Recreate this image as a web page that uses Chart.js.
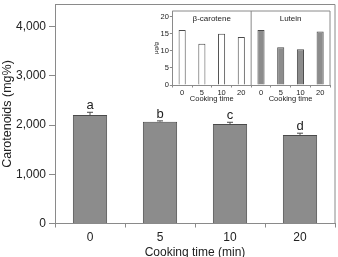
<!DOCTYPE html>
<html>
<head>
<meta charset="utf-8">
<script src="https://cdn.jsdelivr.net/npm/chart.js@4/dist/chart.umd.min.js"></script>
<style>
  html, body { margin: 0; padding: 0; overflow: hidden; background: #fff; width: 338px; height: 257px; }
  #wrap { position: relative; width: 338px; height: 257px; }
  #main { position: absolute; left: 0; top: 0; }
  #inset { position: absolute; left: 148px; top: 9px; }
</style>
</head>
<body>
<div id="wrap">
  <canvas id="main" width="338" height="262"></canvas>
  <canvas id="inset" width="184" height="96"></canvas>
</div>
<script>
var cookTimes = ['0', '5', '10', '20'];
var totalCarotenoids = [2205, 2070, 2022, 1800];
var totalErrors = [55, 15, 35, 35];
var groupLetters = ['a', 'b', 'c', 'd'];
var yTicksMain = [0, 1000, 2000, 3000, 4000];

var insetLabels = ['0', '5', '10', '20', '0', '5', '10', '20'];
var betaCarotene = [16.1, 12.1, 15.0, 14.1, null, null, null, null];
var lutein = [null, null, null, null, 16.1, 11.1, 10.5, 15.7];
var panelNames = ['β-carotene', 'Lutein'];

var FONT = '"Liberation Sans", Arial, Helvetica, sans-serif';
var axisColor = '#8a8a8a';
var textColor = '#222';
var barGray = '#8c8c8c';
var barEdge = '#4a4a4a';

Chart.defaults.font.family = FONT;
Chart.defaults.color = textColor;
Chart.defaults.animation = false;

// top + right border of the plot box
function frameLines(chart, extraX) {
  var a = chart.chartArea, ctx = chart.ctx;
  ctx.save();
  ctx.strokeStyle = axisColor;
  ctx.lineWidth = 1;
  ctx.beginPath();
  ctx.moveTo(a.left, a.top);
  ctx.lineTo(a.right, a.top);
  ctx.lineTo(a.right, a.bottom);
  if (extraX != null) {
    ctx.moveTo(extraX, a.top);
    ctx.lineTo(extraX, a.bottom);
  }
  ctx.stroke();
  ctx.restore();
}

var mainDecor = {
  id: 'mainDecor',
  afterDatasetsDraw: function(chart) {
    var ctx = chart.ctx, y = chart.scales.y, meta = chart.getDatasetMeta(0);
    frameLines(chart);
    ctx.save();
    ctx.strokeStyle = barEdge;
    ctx.lineWidth = 1;
    ctx.fillStyle = textColor;
    ctx.font = '13px ' + FONT;
    ctx.textAlign = 'center';
    ctx.textBaseline = 'alphabetic';
    meta.data.forEach(function(bar, i) {
      var top = y.getPixelForValue(totalCarotenoids[i] + totalErrors[i]);
      var base = y.getPixelForValue(totalCarotenoids[i]);
      ctx.beginPath();
      ctx.moveTo(bar.x, base);
      ctx.lineTo(bar.x, top);
      ctx.moveTo(bar.x - 3, top);
      ctx.lineTo(bar.x + 3, top);
      ctx.stroke();
      ctx.fillText(groupLetters[i], bar.x, top - 3);
    });
    ctx.restore();
  }
};

new Chart(document.getElementById('main'), {
  type: 'bar',
  data: {
    labels: cookTimes,
    datasets: [{
      data: totalCarotenoids,
      backgroundColor: barGray,
      borderColor: barEdge,
      borderWidth: 1,
      barPercentage: 0.49,
      categoryPercentage: 1
    }]
  },
  options: {
    responsive: false,
    layout: { padding: { left: 0, right: 3, top: 4.5, bottom: 0 } },
    plugins: { legend: { display: false }, tooltip: { enabled: false } },
    scales: {
      x: {
        grid: { drawOnChartArea: false, tickLength: 4, color: axisColor, offset: true },
        border: { color: axisColor },
        ticks: { font: { size: 12 }, color: textColor, padding: 3 },
        title: { display: true, text: 'Cooking time (min)', font: { size: 12 }, color: textColor, padding: { top: 0, bottom: 2 } },
        afterFit: function(s) { s.height = 38.5; s.paddingLeft = 0; s.paddingRight = 0; }
      },
      y: {
        min: 0,
        max: 4450,
        afterBuildTicks: function(s) { s.ticks = yTicksMain.map(function(v) { return { value: v }; }); },
        ticks: { font: { size: 12 }, color: textColor, padding: 3,
          callback: function(v) { return v.toLocaleString('en-US'); } },
        grid: { drawOnChartArea: false, tickLength: 6, color: axisColor },
        border: { color: axisColor },
        title: { display: true, text: 'Carotenoids (mg%)', font: { size: 12.5 }, color: textColor, padding: { top: 0.5, bottom: 0 } },
        afterFit: function(s) { s.width = 55; s.paddingTop = 0; s.paddingBottom = 0; }
      }
    }
  },
  plugins: [mainDecor]
});

var insetDecor = {
  id: 'insetDecor',
  afterDatasetsDraw: function(chart) {
    var ctx = chart.ctx, x = chart.scales.x, a = chart.chartArea;
    var divider = (x.getPixelForValue(3) + x.getPixelForValue(4)) / 2;
    frameLines(chart, divider);
    ctx.save();
    ctx.fillStyle = textColor;
    ctx.textAlign = 'center';
    ctx.textBaseline = 'middle';
    [0, 4].forEach(function(start, p) {
      var cx = (x.getPixelForValue(start + 1) + x.getPixelForValue(start + 2)) / 2;
      ctx.font = '8px ' + FONT;
      ctx.fillText(panelNames[p], cx, a.top + 7.3);
      ctx.font = '7.5px ' + FONT;
      ctx.fillText('Cooking time', cx, 90.3);
    });
    ctx.restore();
  }
};

new Chart(document.getElementById('inset'), {
  type: 'bar',
  data: {
    labels: insetLabels,
    datasets: [{
      data: betaCarotene,
      backgroundColor: '#ffffff',
      borderColor: barEdge,
      borderWidth: 1,
      grouped: false,
      barPercentage: 0.36,
      categoryPercentage: 1
    }, {
      data: lutein,
      backgroundColor: barGray,
      borderColor: barEdge,
      borderWidth: 1,
      grouped: false,
      barPercentage: 0.36,
      categoryPercentage: 1
    }]
  },
  options: {
    responsive: false,
    layout: { padding: { left: 0, right: 2, top: 2, bottom: 0 } },
    plugins: { legend: { display: false }, tooltip: { enabled: false } },
    scales: {
      x: {
        grid: { drawOnChartArea: false, tickLength: 2.5, color: axisColor, offset: true },
        border: { color: axisColor },
        ticks: { font: { size: 7.5 }, color: textColor, padding: 0.5, autoSkip: false, maxRotation: 0 },
        afterFit: function(s) { s.height = 20; s.paddingLeft = 0; s.paddingRight = 0; }
      },
      y: {
        min: 0,
        max: 21.7,
        ticks: { stepSize: 5, includeBounds: false, font: { size: 7.5 }, color: textColor, padding: 1 },
        grid: { drawOnChartArea: false, tickLength: 2.5, color: axisColor },
        border: { color: axisColor },
        title: { display: true, text: 'μg/g', font: { size: 6 }, color: textColor, padding: { top: 4.4, bottom: 0 } },
        afterFit: function(s) { s.width = 24.3; s.paddingTop = 0; s.paddingBottom = 0; }
      }
    }
  },
  plugins: [insetDecor]
});
</script>
</body>
</html>
